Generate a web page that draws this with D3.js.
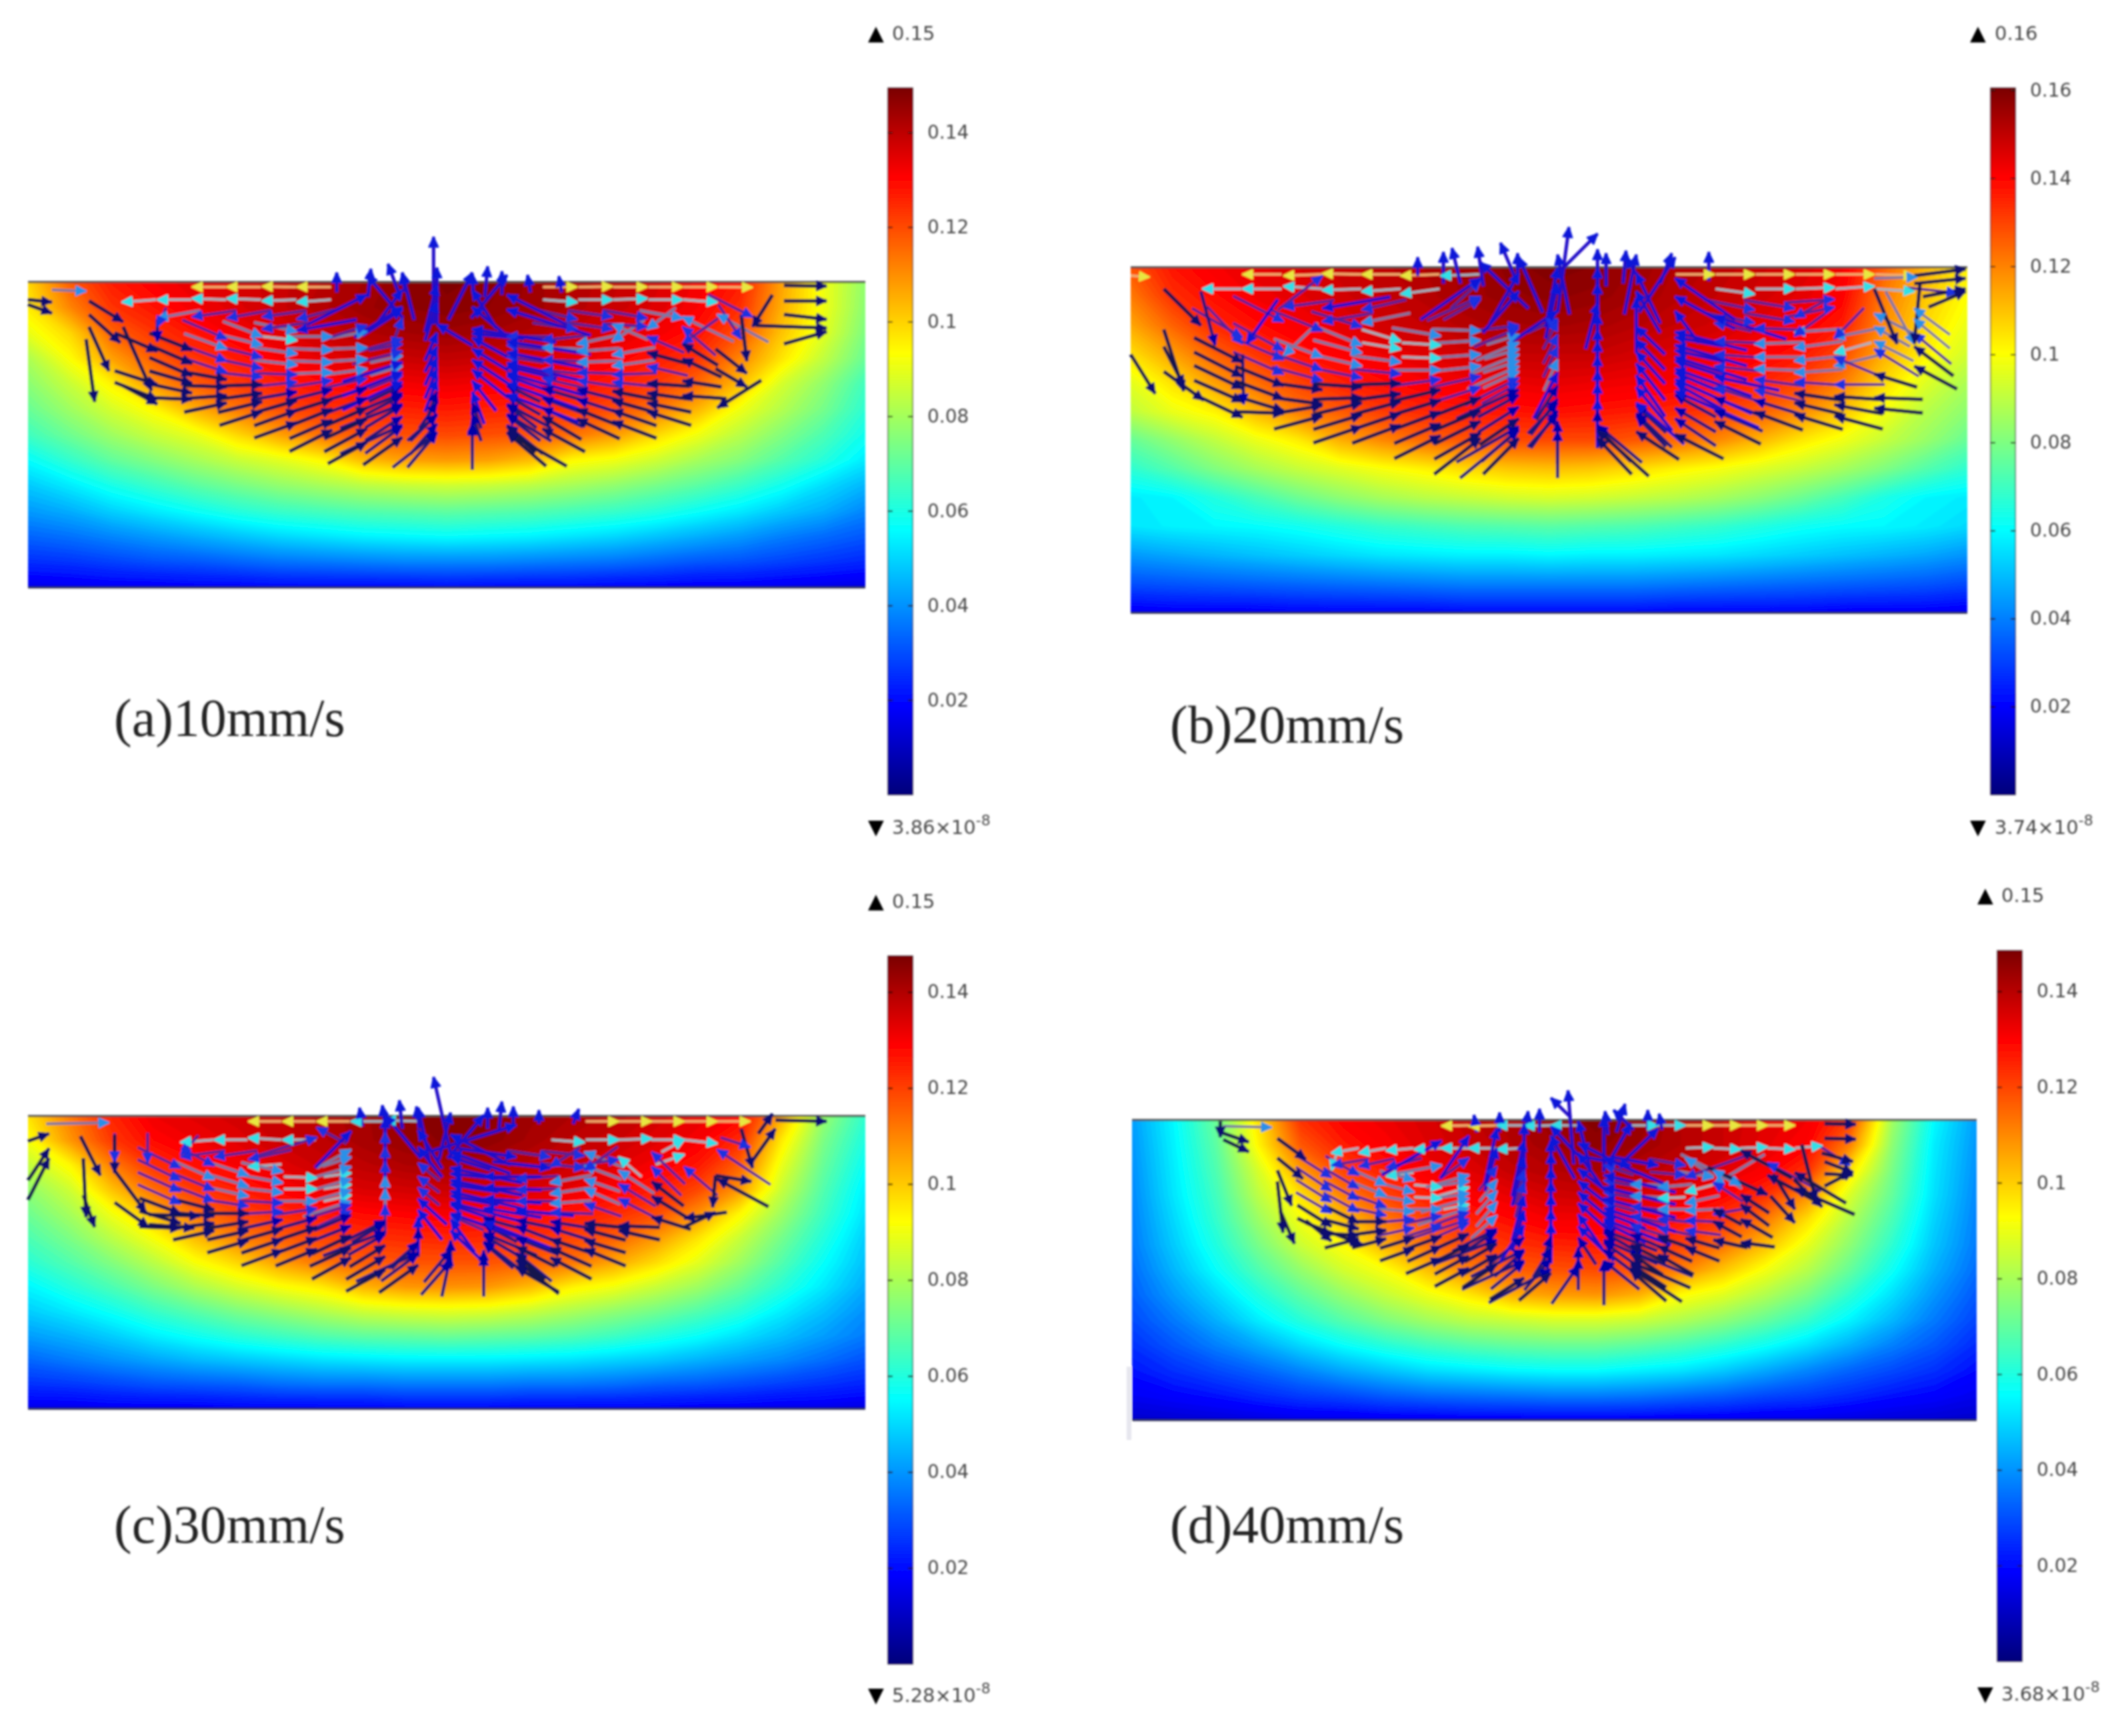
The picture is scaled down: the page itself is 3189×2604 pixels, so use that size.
<!DOCTYPE html>
<html>
<head>
<meta charset="utf-8">
<style>
html, body { margin: 0; padding: 0; background: #fff; }
.tick text { font-family: "DejaVu Sans"; font-size: 28px; fill: #444; }
.tick line { stroke: #1a0a0a; stroke-width: 2px; }
.lbl { font-family: "DejaVu Sans"; font-size: 29px; fill: #444; }
.tri { font-family: "DejaVu Sans"; font-size: 31px; fill: #000; }
.cap { font-family: "Liberation Serif"; font-size: 80px; fill: #222; }
</style>
<script src="https://cdn.jsdelivr.net/npm/d3@7"></script>
</head>
<body>
<div id="chart"></div>
<script>
// temperature-like field, in thousandths, rows top to bottom
const fieldA = [
[100,118,128,132,135,137,139,141,144,147,149,148,145,142,140,137,133,128,108,92,78],
[97,112,124,129,133,136,139,142,145,147,148,147,145,142,139,136,132,125,106,92,77],
[91,100,117,124,129,133,136,139,142,144,145,144,142,139,136,133,129,120,103,90,75],
[82,94,108,118,124,128,132,135,137,139,140,139,137,135,132,128,124,112,98,85,72],
[77,86,96,110,118,123,127,130,132,133,134,133,132,130,127,123,116,104,88,78,66],
[72,80,88,95,106,114,120,124,126,127,128,127,126,124,120,114,105,92,83,74,63],
[66,73,80,86,91,100,108,115,119,120,121,120,119,115,109,100,92,84,76,68,59],
[57,64,71,76,81,86,90,95,104,108,109,108,104,95,92,87,81,76,69,62,54],
[49,54,60,65,70,74,78,81,84,86,87,86,84,81,78,74,70,65,59,52,46],
[42,45,50,54,58,62,65,67,69,70,71,70,69,67,65,62,58,54,49,45,39],
[34,36,39,42,45,48,51,53,55,56,57,56,55,53,51,48,45,42,38,35,32],
[26,27,29,31,32,34,36,37,38,39,39,39,38,37,36,34,32,31,29,27,25],
[16,17,18,18,19,19,20,20,20,20,21,20,20,20,19,19,18,18,17,16,15]]
const fieldB = [
[128,138,142,145,147,149,151,153,155,158,160,159,156,153,151,149,147,143,126,112,103],
[122,134,139,143,145,148,150,152,155,157,158,157,155,152,150,148,145,141,122,110,101],
[115,126,135,139,142,145,148,150,152,154,155,154,152,150,148,145,142,137,119,107,98],
[106,116,126,133,138,141,144,146,148,150,150,150,148,146,144,141,138,130,114,103,94],
[97,106,116,124,131,136,139,142,143,144,145,144,143,142,139,136,131,122,107,96,88],
[91,98,103,113,122,127,132,135,137,138,139,138,137,135,132,127,120,111,100,90,83],
[77,84,91,98,104,114,120,125,128,130,130,130,128,125,120,113,105,99,92,85,77],
[68,74,81,87,92,96,100,103,107,110,111,110,107,103,100,96,92,87,81,74,68],
[58,60,66,72,78,83,87,90,92,94,95,94,92,90,87,83,78,72,65,60,58],
[57,59,60,61,63,66,69,71,73,74,75,74,73,71,69,66,63,61,60,58,55],
[45,47,49,51,53,55,57,58,59,59,60,59,59,58,57,55,53,51,49,47,44],
[33,34,35,36,37,38,39,40,41,41,41,41,41,40,39,38,37,36,35,34,32],
[19,20,20,20,21,21,21,21,22,22,22,22,22,21,21,21,21,20,20,20,19]]
const fieldC = [
[97,112,125,132,134,136,138,140,142,145,147,146,143,141,139,136,133,130,105,78,63],
[92,108,122,129,132,134,137,139,142,144,146,145,142,139,137,134,131,124,96,74,60],
[84,94,112,123,128,131,134,137,139,141,142,141,139,137,134,131,127,116,90,71,57],
[77,86,102,114,122,126,130,133,135,136,137,136,135,133,130,126,120,108,85,68,54],
[72,80,91,103,113,120,124,127,129,130,131,130,129,127,124,119,109,94,79,65,52],
[67,74,83,92,103,111,116,120,123,124,125,124,123,120,116,108,97,85,73,61,49],
[62,68,75,83,92,99,107,113,116,118,118,118,116,113,106,98,89,79,68,57,47],
[55,61,67,74,81,87,92,96,104,108,109,108,103,95,91,85,79,71,62,53,44],
[49,53,58,64,69,74,78,82,86,88,89,88,85,81,77,73,68,62,54,47,40],
[42,45,49,54,58,62,65,68,70,71,72,71,70,68,65,61,57,52,47,42,37],
[34,37,40,43,46,48,50,52,53,54,54,54,53,52,50,48,45,42,39,35,31],
[26,27,29,31,32,33,35,36,36,37,37,37,36,36,35,33,32,30,28,26,24],
[16,16,17,17,17,18,18,18,18,19,19,19,18,18,18,18,17,17,16,16,15]]
const fieldD = [
[42,56,72,98,124,130,133,136,139,142,145,148,145,141,138,135,132,122,80,56,42],
[41,55,70,95,118,127,131,135,138,141,144,146,144,141,138,134,130,112,77,54,41],
[40,54,68,88,108,121,127,132,135,139,141,143,141,138,135,131,124,98,74,53,40],
[39,53,66,84,98,112,121,127,131,134,137,138,136,134,130,124,110,88,71,52,39],
[38,51,64,79,92,102,113,121,126,129,132,132,131,128,123,113,98,82,67,50,38],
[37,49,61,74,86,94,105,114,120,124,126,127,125,121,114,103,90,77,63,48,37],
[35,46,57,68,78,87,93,103,112,117,119,120,118,112,102,92,83,71,58,45,35],
[33,42,51,61,70,78,85,91,97,105,108,109,105,94,89,82,74,63,52,41,32],
[30,37,45,54,62,69,75,80,84,86,88,88,86,82,77,71,64,55,46,37,29],
[26,32,38,44,51,57,62,66,69,71,72,72,70,67,63,58,52,45,38,32,25],
[22,26,30,34,39,44,48,52,54,56,57,57,55,53,49,44,39,34,30,26,21],
[18,20,22,25,28,30,33,35,36,37,38,38,37,35,33,30,28,25,22,20,17],
[12,13,14,15,16,16,17,17,18,18,18,18,18,17,17,16,16,15,14,13,12]]

const maxes = [0.1494, 0.1605, 0.1475, 0.1485]
const topLabels = ['0.15', '0.16', '0.15', '0.15']
const minLabels = ['3.86', '3.74', '5.28', '3.68']
const captions = ['(a)10mm/s', '(b)20mm/s', '(c)30mm/s', '(d)40mm/s']
const ticksShort = [0.02, 0.04, 0.06, 0.08, 0.1, 0.12, 0.14]
const ticksLong = [0.02, 0.04, 0.06, 0.08, 0.1, 0.12, 0.14, 0.16]

// arrow columns, in the units the plots were read in
const colsA = [90,152,213,275,336,397,459,520,582,643,705,766,828,889,951,1012,1074,1135,1197,1258,1320,1381,1443]
const colsB = [100,168,238,310,378,447,515,585,655,722,790,860,928,996,1065,1135,1205,1275,1345,1415,1490]
const colsC = [85,143,200,258,316,375,435,495,555,615,675,733,790,848,905,965,1025,1085,1143,1200,1258,1316,1375,1435]
const colsD = [250,298,347,395,443,491,540,588,636,685,733,780,828,873,920,968,1016,1065,1113,1160,1208,1256,1305]

// rows: tail y, first column, speed digit per arrow, then u,v per arrow
const rowsA = [
[970,8,"0011100",[55,-70,55,-90,40,-110,25,-110,0,-140,-35,-110,-55,-110]],
[920,7,"001111100",[60,-70,60,-75,50,-85,35,-90,15,-95,0,-100,-20,-90,-40,-85,-60,-75]],
[870,6,"000111111000",[60,-50,60,-60,60,-65,50,-75,40,-80,15,-85,-5,-85,-25,-85,-45,-80,-55,-75,-60,-65,-62,-55]],
[820,5,"00001111111000",[60,-45,60,-50,60,-55,60,-60,50,-70,35,-75,10,-80,-5,-80,-25,-75,-40,-70,-55,-60,-60,-55,-62,-50,-62,-45]],
[770,4,"000011112211100",[60,-30,62,-35,60,-40,62,-45,58,-50,50,-60,30,-70,5,-75,-5,-75,-30,-65,-45,-60,-58,-50,-60,-45,-62,-40,-62,-30]],
[720,3,"00011112222111000",[60,5,62,-10,62,-20,62,-25,60,-35,58,-40,45,-50,25,-65,5,-75,-10,-70,-30,-60,-45,-50,-58,-40,-60,-35,-62,-28,-60,-20,-62,-10]],
[670,2,"0000333322222333000",[60,55,60,30,62,5,62,-5,62,-15,60,-22,58,-30,45,-42,25,-55,5,-70,-15,-65,-32,-52,-48,-40,-58,-30,-60,-22,-62,-15,-60,-10,-55,-20,-62,90]],
[620,2,"000334442222233330",[60,45,60,40,60,25,62,15,60,5,60,-5,58,-18,45,-30,25,-45,5,-65,-15,-55,-32,-42,-50,-28,-58,-15,-60,-5,-60,5,-55,-30,-55,-60]],
[570,3,"03344443222334400",[60,60,60,45,60,30,60,15,60,5,60,-8,45,-22,28,-40,5,-60,-15,-50,-32,-35,-50,-18,-60,-5,-60,5,-60,20,-55,-35,-50,-70]],
[520,3,"03344433222344433",[60,60,60,50,60,35,60,20,60,5,60,-5,45,-20,25,-40,5,-65,-15,-45,-35,-30,-52,-15,-60,-5,-60,10,-60,25,-50,-50,-45,-90]],
[470,2,"004454433222334444",[60,60,60,55,60,50,60,35,60,15,60,0,50,-20,25,-45,5,-75,-15,-50,-35,-30,-52,-12,-60,0,-60,15,-60,30,-50,-50,-30,-80,-30,-90]],
[420,3,"1344322222233343",[0,70,60,60,55,50,60,30,-60,20,-60,25,40,-60,20,-70,5,-90,-15,-70,-35,-60,60,20,60,20,60,10,-45,70,-20,80]],
[370,3,"3433332222233344",[-5,60,-60,25,-60,20,-60,25,-60,20,-50,30,25,-70,12,-90,5,-110,-10,-90,-25,-70,55,30,60,20,60,25,60,25,-40,70]],
[320,3,"55555522222555553",[-60,10,-60,0,-60,-5,-60,-5,-60,5,-60,10,-15,-100,-5,-110,0,-130,10,-110,15,-100,60,10,60,0,60,-5,60,0,60,10,60,70]],
[268,5,"6666",[-60,0,-60,0,-60,-2,-60,0]],
[268,14,"666666",[60,0,60,-2,60,0,60,0,60,0,60,2]]]
const extrasA = [
[760,420,760,65,2],[700,300,680,175,2],[645,310,650,195,2],[590,290,590,210,2],[710,290,705,215,2],[830,300,828,215,2],[850,310,855,185,2],[880,300,880,205,2],[930,290,925,220,2],[985,290,980,225,2],
[150,480,165,735,0],[155,430,190,610,0],[155,325,215,410,0],[155,380,210,495,0],[215,430,265,690,0],[215,670,275,745,0],[48,320,90,330,0],[48,340,90,375,0],[90,280,150,285,4],
[1375,262,1450,265,0],[1375,325,1450,325,0],[1375,380,1450,400,0],[1325,425,1450,435,0],[1375,500,1450,450,0],[1355,300,1320,430,0],[1260,340,1300,480,3],[1300,380,1310,570,0],[1255,520,1310,620,0],[1255,600,1310,675,0]]

const rowsB = [
[990,7,"001100",[65,-110,50,-110,33,-140,0,-140,-30,-140,-48,-110]],
[940,6,"001111100",[65,-70,65,-80,50,-95,35,-105,0,-125,-25,-110,-45,-100,-60,-85,-68,-75]],
[885,4,"000001111110",[68,-50,68,-55,65,-60,65,-70,55,-80,40,-95,15,-110,0,-110,-20,-100,-40,-90,-55,-80,-65,-70]],
[835,3,"0000011122111000",[68,-40,68,-45,68,-50,68,-55,65,-60,55,-75,40,-90,15,-105,0,-105,-20,-90,-40,-80,-55,-70,-65,-60,-68,-55,-68,-45,-68,-40]],
[780,2,"000000111222111000",[68,5,68,-25,68,-35,68,-40,68,-45,65,-55,55,-65,35,-85,12,-100,0,-110,-15,-95,-35,-80,-55,-65,-65,-55,-68,-45,-68,-35,-68,-28,-68,-15]],
[730,1,"0000003332222233000",[68,70,68,45,68,20,68,-5,68,-20,68,-35,65,-45,50,-60,30,-80,10,-100,0,-110,-12,-90,-32,-75,-50,-60,-65,-45,-68,-35,-68,-22,-68,-10,-68,-5]],
[675,1,"000003344422222333000",[68,65,68,55,68,20,68,10,68,-5,68,-20,65,-32,50,-50,30,-70,8,-95,0,-110,-12,-80,-32,-60,-50,-45,-65,-30,-68,-20,-68,-10,-68,0,-60,-40,-60,-70]],
[620,1,"00333444432222344330",[68,70,68,60,68,40,68,30,68,15,68,0,65,-15,50,-35,28,-60,8,-90,0,-110,-12,-70,-30,-50,-50,-35,-65,-15,-68,-5,-68,10,-55,-50,-60,-80,-55,-90]],
[570,1,"03344544432222344443",[68,75,68,65,68,50,68,35,68,20,68,5,65,-10,48,-30,25,-55,8,-85,0,-105,-12,-65,-30,-45,-50,-25,-65,-10,-68,0,-68,15,-65,35,-55,-60,-50,-90]],
[515,1,"03445544332222344544",[68,75,68,65,68,55,68,40,68,25,68,10,65,-8,45,-30,25,-55,8,-85,0,-110,-12,-60,-30,-40,-50,-20,-65,-5,-68,5,-68,20,-65,40,-50,-60,-50,-90]],
[465,2,"34454433222223344443",[68,80,-20,100,68,60,68,45,68,25,68,5,60,-15,40,-40,20,-70,5,-100,0,-120,-10,-70,-30,-50,-50,-25,-65,-5,-68,10,-68,30,-55,-60,-50,-80]],
[410,1,"333334332222233333",[68,85,20,110,68,60,68,45,-68,25,-68,30,50,-60,30,-70,15,-90,5,-120,0,-120,-10,-90,-25,-70,68,30,68,25,68,-30,-50,80,-40,90]],
[360,2,"33323322222233334",[68,75,60,-100,-68,20,-68,25,-60,30,40,-80,25,-90,12,-110,5,-130,0,-130,-10,-110,-25,-90,68,30,68,25,68,-10,-50,60,40,160]],
[310,2,"555555222222555553",[-68,0,-68,0,-68,-10,-68,5,-68,10,-68,20,-20,-100,-10,-120,-5,-130,0,-150,5,-130,15,-120,68,20,68,0,68,-5,68,-10,68,10,68,15]],
[255,3,"666665",[-68,0,-68,5,-68,-3,-68,0,-68,5,-68,5]],
[255,13,"666666",[68,0,68,0,68,0,68,0,68,0,68,5]]]
const extrasB = [
[790,400,810,75,2],[800,230,860,100,2],[720,290,690,135,2],[660,300,650,150,2],[620,290,605,155,2],[590,290,590,170,2],[545,260,545,190,2],[720,290,720,175,2],[875,300,875,175,2],[905,290,910,165,2],[935,280,910,190,2],[970,290,990,175,2],[1055,280,1055,170,2],
[100,310,165,450,0],[165,320,190,525,1],[42,560,85,710,0],[100,465,135,700,0],[100,530,135,680,0],[100,625,170,735,0],[238,560,240,750,1],[300,350,245,520,2],
[1345,310,1385,520,0],[1425,290,1415,520,0],[1415,260,1505,235,0],[1415,290,1505,270,0],[1430,340,1505,310,0],[1440,380,1505,320,0],[1345,270,1420,265,4],[42,260,75,265,6]]

const rowsC = [
[945,9,"0011100",[55,-70,55,-90,40,-105,5,-130,0,-130,-25,-110,-60,-80]],
[895,8,"001111100",[55,-70,55,-75,50,-85,35,-90,15,-100,0,-100,-20,-90,-40,-85,-58,-70]],
[845,6,"000011111000",[58,-50,58,-55,58,-60,50,-70,40,-80,15,-85,0,-90,-20,-85,-40,-80,-55,-65,-58,-60,-58,-55]],
[795,5,"0000111211100",[58,-40,58,-45,58,-50,55,-60,50,-65,35,-75,0,-90,-15,-80,-30,-70,-45,-60,-55,-50,-58,-45,-58,-40]],
[745,4,"000011122211100",[58,-30,58,-30,58,-38,58,-45,55,-50,45,-60,25,-70,0,-85,-10,-75,-30,-65,-45,-55,-55,-48,-58,-42,-58,-35,-58,-30]],
[700,3,"00011133223111000",[58,5,58,-15,58,-22,58,-30,58,-38,50,-48,25,-65,0,-90,-10,-70,-28,-55,-45,-45,-55,-35,-58,-28,-58,-22,-58,-15,-58,-5,-55,-40]],
[645,3,"000333442222233300",[58,40,58,10,58,0,58,-8,58,-20,50,-35,28,-50,0,-100,-12,-60,-30,-45,-45,-35,-58,-22,-58,-12,-58,-5,-50,-40,-50,-60,-50,-70,-60,20]],
[595,3,"003345443222344300",[58,50,58,35,58,20,58,8,58,0,48,-25,28,-45,0,-100,-12,-55,-30,-40,-48,-22,-58,-10,-58,0,-58,10,-50,-50,-50,-70,-45,-80,-30,-90]],
[545,3,"334455433222344433",[58,60,58,50,58,30,58,15,58,0,48,-18,25,-40,0,-110,-12,-50,-30,-35,-48,-18,-58,-5,-58,5,-58,20,-50,-40,-50,-75,-40,-90,-45,-90]],
[495,3,"334455433222344533",[58,60,58,55,58,40,58,25,58,5,48,-15,25,-40,0,-120,-12,-55,-30,-35,-48,-12,-58,0,-58,10,-58,25,-52,-45,-40,-80,-45,-100,-30,-110]],
[445,3,"3444544322223345",[58,65,58,60,58,45,58,30,-58,10,40,-30,20,-60,0,-130,-10,-70,-25,-50,-40,-30,58,15,58,15,58,-20,-55,-50,50,-40]],
[395,3,"3333332222233335",[58,65,45,55,-60,20,-58,20,-58,30,35,-60,15,-85,0,-140,-10,-90,-25,-70,58,20,58,20,58,15,-40,60,-45,75,40,-50]],
[345,2,"3335555322222555553",[0,90,0,95,-10,60,-58,10,-58,0,-58,-8,-58,0,-40,-50,-15,-100,-5,-130,5,-110,15,-100,35,-60,58,10,58,0,58,-5,58,0,58,15,40,30]],
[270,7,"66655",[-58,0,-58,0,-58,0,-58,0,-58,-5]],
[270,16,"66666",[58,0,58,0,58,0,58,0,58,0]]]
const extrasC = [
[790,400,760,90,2],[735,300,730,210,2],[705,300,700,185,2],[675,290,670,205,2],[635,290,630,215,2],[855,300,855,215,2],[875,300,880,190,2],[900,290,900,210,2],[945,280,945,225,2],[1005,280,1015,220,2],
[140,330,175,490,0],[145,420,150,660,0],[145,570,165,700,0],[200,325,200,480,0],[200,470,255,640,0],[200,600,260,700,0],[260,690,340,705,0],[260,650,350,655,0],[48,350,85,320,0],[48,510,85,380,0],[48,590,85,420,0],[80,280,190,275,4],
[1330,320,1355,240,0],[1360,265,1450,270,0],[1300,300,1320,460,0],[1320,430,1360,300,0],[1255,490,1318,515,0],[1255,490,1250,620,0],[1200,700,1255,640,0]]

const rowsD = [
[955,9,"0011100",[48,-70,45,-90,35,-105,15,-120,0,-140,-30,-110,-50,-100]],
[905,7,"001111100",[48,-60,48,-75,45,-85,35,-90,15,-100,0,-100,-20,-90,-35,-85,-50,-75]],
[855,6,"00011111100",[50,-50,48,-60,48,-65,40,-80,30,-85,10,-90,0,-95,-20,-85,-35,-80,-45,-70,-50,-65]],
[805,5,"0000111111000",[48,-40,48,-50,48,-55,45,-60,35,-75,20,-85,5,-90,-10,-85,-30,-75,-40,-65,-48,-55,-48,-50,-48,-45]],
[755,3,"00000112221110000",[48,-30,48,-30,48,-35,48,-40,48,-50,42,-60,25,-70,10,-85,0,-95,-15,-80,-30,-65,-42,-55,-48,-48,-48,-40,-48,-32,-48,-25,-48,-15]],
[705,3,"00333342222233300",[48,5,48,-15,48,-25,48,-35,45,-45,32,-60,15,-75,5,-95,0,-100,-10,-80,-28,-60,-42,-48,-48,-35,-48,-25,-48,-15,-40,-50,-45,-60]],
[655,2,"000333442222233300",[48,55,48,30,48,0,48,-10,48,-25,45,-38,30,-55,12,-80,5,-105,0,-110,-15,-75,-30,-55,-42,-38,-48,-25,-48,-12,-48,-5,-40,-50,-40,-70]],
[605,2,"0034454432223344300",[48,70,48,55,48,25,48,10,48,0,45,-20,28,-45,12,-75,5,-110,0,-115,-15,-70,-30,-45,-42,-28,-48,-12,-48,0,-48,5,-48,20,-40,-60,-35,-85]],
[555,2,"3334545432223454300",[48,65,48,60,48,40,48,20,48,5,45,-15,25,-40,10,-70,5,-110,0,-120,-15,-65,-30,-40,-45,-20,-48,-5,-48,5,-48,25,-40,-60,-30,-90,-30,-100]],
[505,2,"3344544322223445430",[48,70,48,60,48,45,48,30,48,10,45,-15,25,-40,10,-75,5,-115,0,-130,-15,-65,-30,-40,-45,-18,-48,-2,-48,10,-48,30,-40,-60,-30,-90,40,90]],
[455,2,"334454322222334400",[48,75,48,65,48,50,48,30,-48,15,30,-30,15,-60,5,-100,5,-130,0,-130,-10,-80,-25,-60,-40,-30,48,10,48,20,-40,-60,-30,-90,35,90]],
[405,2,"33333222222223344",[48,70,45,60,-50,20,-48,25,-48,30,25,-80,12,-100,5,-130,0,-150,-10,-100,-25,-70,48,20,48,20,48,20,-35,70,-30,100,35,100]],
[355,3,"5555555522222555553",[-5,90,-48,20,-48,20,-48,10,-48,5,-48,0,-48,0,-48,5,-15,-90,-5,-110,0,-130,10,-100,15,-80,48,-5,48,5,48,-5,48,5,48,-10,48,70]],
[262,8,"66555",[-48,2,-48,3,-48,0,-48,2,-48,0]],
[262,14,"556666",[48,0,48,0,48,0,48,0,48,0,48,0]]]
const extrasD = [
[820,420,810,120,2],[815,230,780,150,2],[735,300,740,205,2],[690,290,690,210,2],[650,290,645,220,2],[760,290,760,195,2],[880,300,875,205,2],[895,290,910,175,2],[925,280,890,200,2],[950,280,950,200,2],[975,280,970,215,2],
[300,315,350,400,0],[300,395,345,480,0],[300,445,325,590,0],[300,490,310,700,0],[305,610,330,745,0],[350,650,395,735,0],[350,660,450,750,0],[200,245,200,310,0],[200,290,250,330,0],[205,320,250,370,0],[205,265,290,270,4],
[1260,255,1315,258,0],[1260,315,1315,318,0],[1255,375,1310,410,0],[1260,410,1310,455,0],[1260,460,1310,465,0],[1260,510,1310,450,0],[1220,340,1245,570,0],[1170,460,1208,605,0],[1165,550,1208,660,0]]

const jetStops = [0, 0.125, 0.375, 0.625, 0.875, 1]
const jetColors = ['#00007a', '#0000ff', '#00ffff', '#ffff00', '#ff0000', '#7a0000']
const shaftColors = ['#15174e', '#1c1478', '#2410c8', '#54209a', '#7c78a4', '#a0b8c4', '#f2b070']
const shaftWidths = [5.5, 5, 5, 4, 4, 3.5, 3.5]
const headColors = ['#0a0a70', '#0000a8', '#0a14d8', '#1a30e0', '#2c90e8', '#30e0e8', '#e8e840']
const lengthScale = [1.25, 1.3, 1.75, 1.3, 1.25, 1, 1]
const fanScale = 2.4

const fieldsAll = [fieldA, fieldB, fieldC, fieldD]
const colsAll = [colsA, colsB, colsC, colsD]
const rowsAll = [rowsA, rowsB, rowsC, rowsD]
const extrasAll = [extrasA, extrasB, extrasC, extrasD]

// layout, page pixels
const layout = [
  { x0: 42, x1: 1298, y0: 423, y1: 881, readX: [48, 1518], readY: [248, 1490], barX: 1332, barTop: 132, barBot: 1192, triX: 1302, textX: 1338, topY: 60, botY: 1251, capX: 171, capY: 1104, ticks: ticksShort },
  { x0: 1696, x1: 2951, y0: 401, y1: 919, readX: [42, 1508], readY: [228, 1545], barX: 2986, barTop: 132, barBot: 1192, triX: 2955, textX: 2992, topY: 60, botY: 1251, capX: 1755, capY: 1114, ticks: ticksLong },
  { x0: 42, x1: 1298, y0: 1674, y1: 2113, readX: [48, 1518], readY: [248, 1440], barX: 1332, barTop: 1434, barBot: 2496, triX: 1302, textX: 1338, topY: 1362, botY: 2553, capX: 171, capY: 2314, ticks: ticksShort },
  { x0: 1698, x1: 2965, y0: 1680, y1: 2130, readX: [45, 1527], readY: [240, 1465], barX: 2996, barTop: 1426, barBot: 2492, triX: 2966, textX: 3002, topY: 1353, botY: 2551, capX: 1755, capY: 2314, ticks: ticksShort }
]
const barW = 37
const width = 3189, height = 2604

const svg = d3.select('#chart').append('svg')
  .attr('width', width)
  .attr('height', height)
  .style('display', 'block')

const defs = svg.append('defs')
const soft = defs.append('filter').attr('id', 'soft')
  .attr('filterUnits', 'userSpaceOnUse')
  .attr('x', 0).attr('y', 0).attr('width', width).attr('height', height)
soft.append('feGaussianBlur').attr('stdDeviation', 1.4)

const root = svg.append('g').attr('filter', 'url(#soft)')

layout.forEach((p, i) => {
  const max = maxes[i]
  const color = d3.scaleLinear().domain(jetStops.map(s => s * max)).range(jetColors)
  const g = root.append('g')

  defs.append('clipPath').attr('id', 'clip' + i)
    .append('rect').attr('x', p.x0).attr('y', p.y0).attr('width', p.x1 - p.x0).attr('height', p.y1 - p.y0)

  // field as filled contour bands
  const field = fieldsAll[i]
  const nx = field[0].length, ny = field.length
  const gx = d3.scaleLinear().domain([0, nx - 1]).range([p.x0, p.x1])
  const gy = d3.scaleLinear().domain([0, ny - 1]).range([p.y0, p.y1])
  const contours = d3.contours().size([nx, ny]).thresholds(d3.range(0, 165, 1.5))(field.flat())
  const path = d3.geoPath(d3.geoTransform({
    point(x, y) { this.stream.point(gx(x - 0.5), gy(y - 0.5)) }
  }))
  g.append('g').attr('clip-path', 'url(#clip' + i + ')')
    .selectAll('path').data(contours).enter().append('path')
    .attr('d', path)
    .attr('fill', d => color(d.value / 1000))

  g.append('line').attr('x1', p.x0).attr('x2', p.x1).attr('y1', p.y0).attr('y2', p.y0)
    .attr('stroke', '#4a4a4a').attr('stroke-width', 3)
  g.append('line').attr('x1', p.x0).attr('x2', p.x1).attr('y1', p.y1).attr('y2', p.y1)
    .attr('stroke', '#20264a').attr('stroke-width', 3)

  // arrows, heads sit on the columns so they stack up as in the plots
  const ax = d3.scaleLinear().domain(p.readX).range([p.x0, p.x1])
  const ay = d3.scaleLinear().domain(p.readY).range([p.y0, p.y1])
  const cols = colsAll[i]
  const arrows = []
  rowsAll[i].forEach(([y, k0, speed, uv]) => {
    for (let n = 0; n < uv.length / 2; n++) {
      const tx = cols[k0 + n]
      if (tx === undefined) continue
      const c = +(speed[n] || 0)
      const s = lengthScale[c]
      const u = uv[2 * n], v = uv[2 * n + 1]
      // steep arrows stay on their own column and fan out towards the tail
      const steep = Math.abs(u) < 40
      const hx = steep ? tx : d3.least(cols, d => Math.abs(d - (tx + u)))
      arrows.push({ x0: hx - u * s * (steep ? fanScale : 1), y0: y + v - v * s, x1: hx, y1: y + v, c })
    }
  })
  extrasAll[i].forEach(e => arrows.push({ x0: e[0], y0: e[1], x1: e[2], y1: e[3], c: e[4] }))
  arrows.sort((a, b) => a.c === 2 ? 1 : b.c === 2 ? -1 : b.c - a.c)

  const ag = g.append('g')
  ag.selectAll('line').data(arrows).enter().append('line')
    .attr('x1', d => ax(d.x0)).attr('y1', d => ay(d.y0))
    .attr('x2', d => ax(d.x1)).attr('y2', d => ay(d.y1))
    .attr('stroke', d => shaftColors[d.c])
    .attr('stroke-width', d => shaftWidths[d.c])
  ag.selectAll('path').data(arrows).enter().append('path')
    .attr('fill', d => headColors[d.c])
    .attr('stroke', d => headColors[d.c])
    .attr('stroke-width', 2)
    .attr('stroke-linejoin', 'round')
    .attr('d', d => {
      const px = ax(d.x1), py = ay(d.y1)
      const dx = px - ax(d.x0), dy = py - ay(d.y0)
      const len = Math.hypot(dx, dy) || 1
      const ux = dx / len, uy = dy / len
      const bx = px - ux * 15, by = py - uy * 15
      return 'M' + px + ',' + py + 'L' + (bx - uy * 7) + ',' + (by + ux * 7) + 'L' + (bx + uy * 7) + ',' + (by - ux * 7) + 'Z'
    })

  // colorbar
  const gradId = 'grad' + i
  const grad = defs.append('linearGradient').attr('id', gradId)
    .attr('x1', 0).attr('x2', 0).attr('y1', 1).attr('y2', 0)
  jetStops.forEach((s, j) => grad.append('stop').attr('offset', s).attr('stop-color', jetColors[j]))
  g.append('rect').attr('x', p.barX).attr('y', p.barTop).attr('width', barW).attr('height', p.barBot - p.barTop)
    .attr('fill', 'url(#' + gradId + ')')
    .attr('stroke', '#201020').attr('stroke-opacity', 0.55).attr('stroke-width', 2)

  const yc = d3.scaleLinear().domain([0, max]).range([p.barBot, p.barTop])
  const axisR = g.append('g').attr('transform', 'translate(' + (p.barX + barW) + ',0)')
    .call(d3.axisRight(yc).tickValues(p.ticks).tickFormat(d => d).tickSizeInner(-7).tickSizeOuter(0).tickPadding(22))
  axisR.select('.domain').remove()
  const axisL = g.append('g').attr('transform', 'translate(' + p.barX + ',0)')
    .call(d3.axisLeft(yc).tickValues(p.ticks).tickFormat('').tickSizeInner(-7).tickSizeOuter(0))
  axisL.select('.domain').remove()

  // max and min labels
  g.append('text').attr('class', 'tri').attr('x', p.triX).attr('y', p.topY).text('▲')
  g.append('text').attr('class', 'lbl').attr('x', p.textX).attr('y', p.topY).text(topLabels[i])
  g.append('text').attr('class', 'tri').attr('x', p.triX).attr('y', p.botY).text('▼')
  const minText = g.append('text').attr('class', 'lbl').attr('x', p.textX).attr('y', p.botY)
  minText.append('tspan').text(minLabels[i] + '×10')
  minText.append('tspan').attr('dy', -13).style('font-size', '22px').text('-8')

  root.append('text').attr('class', 'cap').attr('x', p.capX).attr('y', p.capY).text(captions[i])
})

// pale strip left of the last plot
root.append('rect').attr('x', 1690).attr('y', 2050).attr('width', 7).attr('height', 110).attr('fill', '#e6e6ee')
</script>
</body>
</html>
